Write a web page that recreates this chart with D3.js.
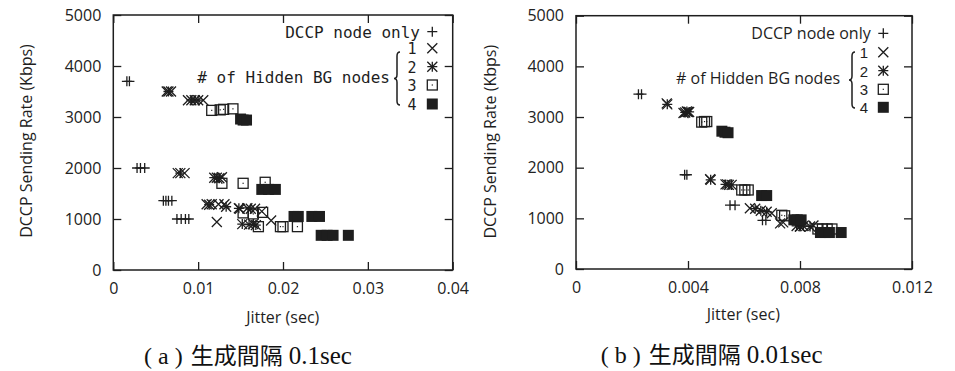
<!DOCTYPE html>
<html>
<head>
<meta charset="utf-8">
<script src="https://cdn.jsdelivr.net/npm/d3@7"></script>
<style>
  body { margin: 0; background: #fff; }
  svg { display: block; }
  .tick text { font-family: 'Open Sans', sans-serif; font-size: 16px; fill: #222; }
</style>
</head>
<body>
<div id="chart"></div>
<script>
// panel (a): generation interval 0.1sec
var a_only = [[0.0016,3700],[0.0019,3700],[0.0028,2000],[0.0032,2000],[0.0037,2000],[0.0059,1360],[0.0062,1360],[0.0065,1360],[0.0069,1360],[0.0075,1000],[0.0080,1000],[0.0085,1000],[0.0089,1000]];
var a_bg1 = [[0.0063,3500],[0.0068,3500],[0.0088,3330],[0.0106,3330],[0.0076,1900],[0.0084,1900],[0.0128,1820],[0.0110,1290],[0.0116,1290],[0.0124,1290],[0.0131,1290],[0.0122,940],[0.0149,1200],[0.0158,1210],[0.0167,1200],[0.0175,1150],[0.0186,970]];
var a_bg2 = [[0.0065,3500],[0.0092,3330],[0.0096,3330],[0.0100,3330],[0.0079,1900],[0.0119,1810],[0.0122,1810],[0.0125,1800],[0.0113,1280],[0.0133,1240],[0.0148,1210],[0.0162,1200],[0.0152,900],[0.0160,890],[0.0165,900],[0.0168,880]];
var a_bg3 = [[0.0116,3130],[0.0126,3140],[0.0130,3150],[0.0141,3160],[0.0128,1700],[0.0153,1700],[0.0179,1720],[0.0153,1120],[0.0165,1100],[0.0176,1130],[0.0171,850],[0.0197,850],[0.0200,850],[0.0217,850]];
var a_bg4 = [[0.0150,2960],[0.0153,2940],[0.0157,2940],[0.0175,1580],[0.0183,1580],[0.0191,1580],[0.0213,1050],[0.0218,1050],[0.0234,1050],[0.0243,1050],[0.0245,680],[0.0252,680],[0.0259,680],[0.0277,680]];
var a_xticks = [0, 0.01, 0.02, 0.03, 0.04];
var a_xlabels = ['0', '0.01', '0.02', '0.03', '0.04'];

// panel (b): generation interval 0.01sec
var b_only = [[0.00223,3450],[0.00234,3450],[0.00388,1860],[0.00396,1860],[0.00550,1260],[0.00568,1260],[0.00666,960],[0.00678,960]];
var b_bg1 = [[0.00324,3270],[0.00384,3080],[0.00400,3100],[0.00479,1770],[0.00540,1670],[0.00621,1200],[0.00699,1100],[0.00729,900],[0.00740,920],[0.00800,840],[0.00848,860]];
var b_bg2 = [[0.00326,3250],[0.00390,3090],[0.00396,3110],[0.00404,3100],[0.00481,1760],[0.00534,1670],[0.00546,1660],[0.00556,1660],[0.00640,1190],[0.00660,1150],[0.00681,1130],[0.00788,850],[0.00800,840],[0.00812,850],[0.00836,840]];
var b_bg3 = [[0.00449,2900],[0.00459,2910],[0.00467,2910],[0.00592,1560],[0.00603,1560],[0.00615,1560],[0.00735,1060],[0.00745,1050],[0.00864,790],[0.00880,790],[0.00897,790],[0.00914,790]];
var b_bg4 = [[0.00521,2720],[0.00532,2700],[0.00543,2690],[0.00663,1450],[0.00681,1450],[0.00778,970],[0.00790,970],[0.00804,970],[0.00873,720],[0.00890,720],[0.00905,720],[0.00947,720]];
var b_xticks = [0, 0.004, 0.008, 0.012];
var b_xlabels = ['0', '0.004', '0.008', '0.012'];

var y_ticks = [0, 1000, 2000, 3000, 4000, 5000];
var y_labels = ['0', '1000', '2000', '3000', '4000', '5000'];
var legend_nums = ['1', '2', '3', '4'];

var ink = '#1e1e1e';
var svg = d3.select('#chart').append('svg').attr('width', 955).attr('height', 371);

// draw one gnuplot-style point symbol at (0,0) inside g
var draw_symbol = function(g, kind) {
  var s = 5;
  if (kind == 'plus' || kind == 'star') {
    g.append('path').attr('d', 'M' + (-s) + ',0H' + s + 'M0,' + (-s) + 'V' + s);
  }
  if (kind == 'cross' || kind == 'star') {
    g.append('path').attr('d', 'M' + (-s) + ',' + (-s) + 'L' + s + ',' + s + 'M' + (-s) + ',' + s + 'L' + s + ',' + (-s));
  }
  if (kind == 'box') {
    g.append('rect').attr('x', -s).attr('y', -s).attr('width', 2 * s).attr('height', 2 * s).attr('fill', 'none');
    g.append('rect').attr('x', -0.6).attr('y', -0.6).attr('width', 1.2).attr('height', 1.2).attr('fill', ink).attr('stroke', 'none');
  }
  if (kind == 'fbox') {
    g.append('rect').attr('x', -5.5).attr('y', -5.5).attr('width', 11).attr('height', 11).attr('fill', ink).attr('stroke', 'none');
  }
};

var kinds = ['plus', 'cross', 'star', 'box', 'fbox'];

var draw_panel = function(cfg) {
  var x = d3.scaleLinear().domain([0, cfg.xticks[cfg.xticks.length - 1]]).range([cfg.left, cfg.right]);
  var y = d3.scaleLinear().domain([0, 5000]).range([cfg.bottom, cfg.top]);
  var panel = svg.append('g');

  var xfmt = function(d, i) { return cfg.xlabels[i]; };
  var yfmt = function(d, i) { return y_labels[i]; };

  var bottom = panel.append('g').attr('transform', 'translate(0,' + cfg.bottom + ')')
    .call(d3.axisBottom(x).tickValues(cfg.xticks).tickFormat(xfmt).tickSizeInner(-8).tickSizeOuter(0).tickPadding(13));
  var top = panel.append('g').attr('transform', 'translate(0,' + cfg.top + ')')
    .call(d3.axisTop(x).tickValues(cfg.xticks).tickFormat('').tickSizeInner(-8).tickSizeOuter(0));
  var left = panel.append('g').attr('transform', 'translate(' + cfg.left + ',0)')
    .call(d3.axisLeft(y).tickValues(y_ticks).tickFormat(yfmt).tickSizeInner(-8).tickSizeOuter(0).tickPadding(12));
  var right = panel.append('g').attr('transform', 'translate(' + cfg.right + ',0)')
    .call(d3.axisRight(y).tickValues(y_ticks).tickFormat('').tickSizeInner(-8).tickSizeOuter(0));
  [bottom, top, left, right].forEach(function(ax) {
    ax.select('.domain').remove();
    ax.selectAll('.tick line').attr('stroke', ink).attr('stroke-width', 1.3);
  });

  panel.append('rect')
    .attr('x', cfg.left).attr('y', cfg.top)
    .attr('width', cfg.right - cfg.left).attr('height', cfg.bottom - cfg.top)
    .attr('fill', 'none').attr('stroke', ink).attr('stroke-width', 1.5);

  // points
  cfg.series.forEach(function(data, k) {
    panel.append('g').selectAll('g')
      .data(data)
      .enter()
      .append('g')
      .attr('transform', d => 'translate(' + x(d[0]) + ',' + y(d[1]) + ')')
      .attr('stroke', ink).attr('stroke-width', 1.3).attr('fill', 'none')
      .each(function() { draw_symbol(d3.select(this), kinds[k]); });
  });

  // axis titles
  panel.append('text')
    .attr('transform', 'translate(' + cfg.ytitle[0] + ',' + cfg.ytitle[1] + ') rotate(-90)')
    .attr('text-anchor', 'middle').attr('dy', '0.35em')
    .style('font-family', "'Open Sans', sans-serif").style('font-size', '16px').attr('fill', ink)
    .text('DCCP Sending Rate (Kbps)');
  panel.append('text')
    .attr('x', cfg.xtitle[0]).attr('y', cfg.xtitle[1])
    .attr('text-anchor', 'middle').attr('dy', '0.35em')
    .style('font-family', "'Open Sans', sans-serif").style('font-size', '16px').attr('fill', ink)
    .text('Jitter (sec)');

  // legend
  var lg = cfg.legend;
  panel.append('text')
    .attr('x', lg.textRight).attr('y', lg.rows[0] + 6)
    .attr('text-anchor', 'end')
    .style('font-family', lg.font).style('font-size', lg.size + 'px').attr('fill', ink)
    .text('DCCP node only');
  panel.append('text')
    .attr('x', lg.groupRight).attr('y', lg.groupY + 6)
    .attr('text-anchor', 'end')
    .style('font-family', lg.font).style('font-size', lg.size + 'px').attr('fill', ink)
    .text('# of Hidden BG nodes');
  legend_nums.forEach(function(n, i) {
    panel.append('text')
      .attr('x', lg.numX).attr('y', lg.rows[i + 1] + 6)
      .attr('text-anchor', 'middle')
      .style('font-family', lg.numFont).style('font-size', lg.numSize + 'px').attr('fill', ink)
      .text(n);
  });
  lg.rows.forEach(function(ry, i) {
    var g = panel.append('g').attr('transform', 'translate(' + lg.markX + ',' + ry + ')')
      .attr('stroke', ink).attr('stroke-width', 1.3).attr('fill', 'none');
    draw_symbol(g, kinds[i]);
  });
  var bx = lg.braceX, bt = lg.braceTop, bb = lg.braceBottom, bm = (bt + bb) / 2;
  panel.append('path')
    .attr('d', 'M' + (bx + 3) + ',' + bt + 'Q' + bx + ',' + bt + ' ' + bx + ',' + (bt + 4) +
      'L' + bx + ',' + (bm - 4) + 'Q' + bx + ',' + bm + ' ' + (bx - 3) + ',' + bm +
      'Q' + bx + ',' + bm + ' ' + bx + ',' + (bm + 4) +
      'L' + bx + ',' + (bb - 4) + 'Q' + bx + ',' + bb + ' ' + (bx + 3) + ',' + bb)
    .attr('fill', 'none').attr('stroke', ink).attr('stroke-width', 1.5);

  // caption
  var cap = panel.append('text')
    .attr('x', cfg.caption[0]).attr('y', cfg.caption[1] + 6)
    .attr('text-anchor', 'middle').attr('fill', '#111');
  cap.append('tspan').style('font-family', "'Liberation Serif', serif").style('font-size', '24px').text('( ' + cfg.tag + ' )');
  cap.append('tspan').attr('dx', 8).style('font-family', "'Noto Sans CJK JP', sans-serif").style('font-size', '23px').text('生成間隔');
  cap.append('tspan').attr('dx', 6).style('font-family', "'Liberation Serif', serif").style('font-size', '25px').text(cfg.interval);
};

draw_panel({
  left: 113.3, right: 452.7, top: 15, bottom: 270,
  xticks: a_xticks, xlabels: a_xlabels,
  series: [a_only, a_bg1, a_bg2, a_bg3, a_bg4],
  ytitle: [26.7, 141], xtitle: [282.7, 317],
  legend: { font: "'DejaVu Sans Mono', monospace", size: 16,
    numFont: "'DejaVu Sans Mono', monospace", numSize: 15,
    textRight: 420, groupRight: 390, groupY: 77, numX: 412, markX: 432.3,
    rows: [31.7, 48.3, 66.7, 85, 104], braceX: 397, braceTop: 52, braceBottom: 105 },
  caption: [248, 358], tag: 'a', interval: '0.1sec'
});

draw_panel({
  left: 576, right: 912, top: 15.7, bottom: 269,
  xticks: b_xticks, xlabels: b_xlabels,
  series: [b_only, b_bg1, b_bg2, b_bg3, b_bg4],
  ytitle: [490, 141.7], xtitle: [743.3, 314],
  legend: { font: "'Open Sans', sans-serif", size: 16,
    numFont: "'Liberation Sans', sans-serif", numSize: 15,
    textRight: 870.7, groupRight: 840, groupY: 78.3, numX: 864, markX: 883.3,
    rows: [33.3, 52.3, 70.7, 89.3, 107.3], braceX: 852, braceTop: 52, braceBottom: 108 },
  caption: [711.7, 357], tag: 'b', interval: '0.01sec'
});
</script>
</body>
</html>
